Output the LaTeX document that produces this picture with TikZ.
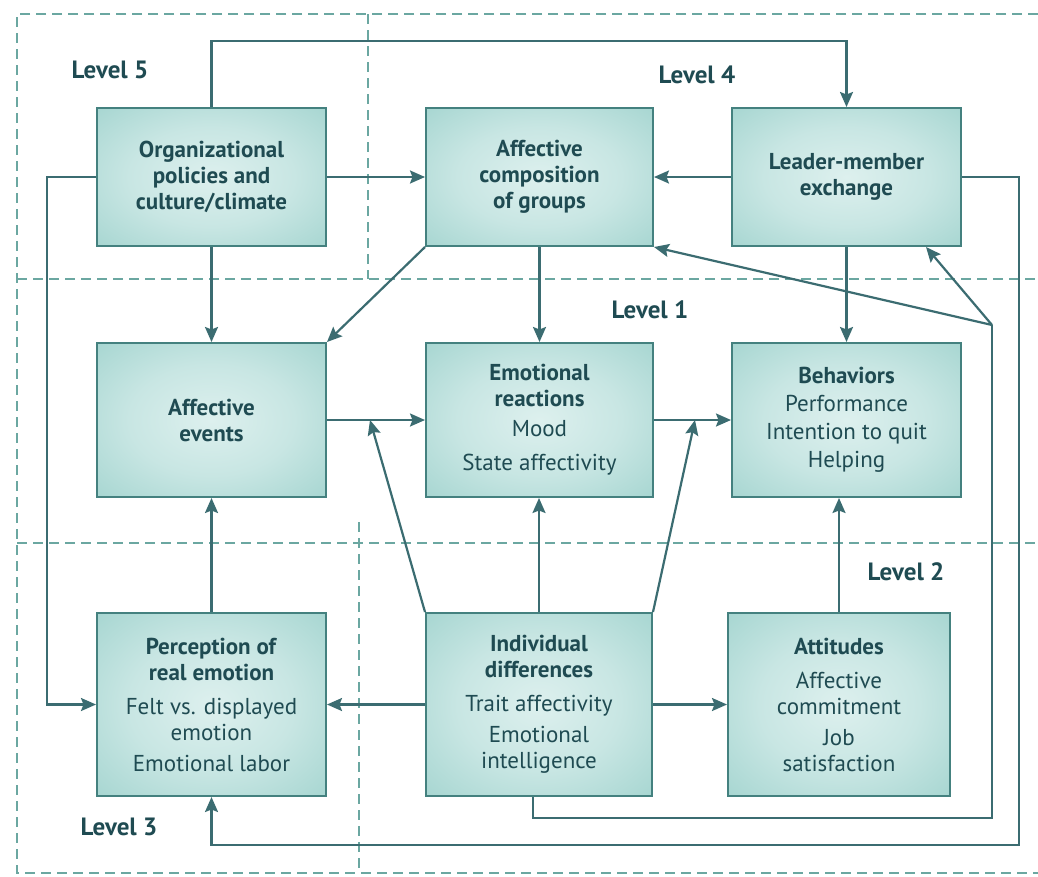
\documentclass[tikz,border=0pt]{standalone}
\usepackage{fontspec}
\setmainfont{PT Sans}
\usetikzlibrary{arrows.meta,calc}
\definecolor{ink}{HTML}{1F4B52}
\definecolor{wirec}{HTML}{3B6C71}
\definecolor{framec}{HTML}{44817F}
\definecolor{zonec}{HTML}{6BA7A1}
% soft teal glow for the boxes: light centre, deeper teal towards the rim
\pgfdeclareradialshading{boxglow}{\pgfpoint{0bp}{0bp}}{%
  color(0bp)=(rgb,255:red,221;green,240;blue,238);
  color(18bp)=(rgb,255:red,200;green,230;blue,227);
  color(50bp)=(rgb,255:red,140;green,201;blue,195);
  color(72bp)=(rgb,255:red,126;green,191;blue,185)}

\begin{document}
\begin{tikzpicture}[x=1pt,y=-1pt,
  box/.style={draw=framec, line width=2pt, shading=boxglow, align=center,
    text=ink, font=\fontsize{23}{26}\selectfont, inner sep=0pt},
  arr/.style={draw=wirec, line width=2.2pt,
    -{Stealth[length=15pt,width=13pt,inset=2.5pt]}},
  wire/.style={draw=wirec, line width=2.2pt},
  zoneline/.style={draw=zonec, line width=2pt, dash pattern=on 10pt off 6pt},
  lvl/.style={text=ink, font=\fontsize{25}{28}\selectfont\bfseries}
]
\useasboundingbox (0,0) rectangle (1038,876);
\fill[white] (0,0) rectangle (1038,876);

% level zones
\draw[zoneline] (1038,14) -- (17,14) -- (17,873) -- (1038,873);
\draw[zoneline] (17,279) -- (1038,279);
\draw[zoneline] (368,14) -- (368,279);
\draw[zoneline] (17,543) -- (1038,543);
\draw[zoneline] (359,522) -- (359,873);

\node[lvl] (l5) at (110,70) {Level 5};
\node[lvl] (l4) at (697,75) {Level 4};
\node[lvl] (l1) at (650,310) {Level 1};
\node[lvl] (l2) at (906,572) {Level 2};
\node[lvl] (l3) at (119,827) {Level 3};

% top row
\node[box, minimum width=229pt, minimum height=138pt] (org) at (211.5,177)
  {\textbf{Organizational}\\\textbf{policies and}\\\textbf{culture/climate}};
\node[box, minimum width=227pt, minimum height=138pt] (ac) at (539.5,177)
  {\textbf{Affective}\\\textbf{composition}\\\textbf{of groups}};
\node[box, minimum width=229pt, minimum height=138pt] (lmx) at (846.5,177)
  {\textbf{Leader-member}\\\textbf{exchange}};

% middle row
\node[box, minimum width=229pt, minimum height=154pt] (ae) at (211.5,420)
  {\textbf{Affective}\\\textbf{events}};
\node[box, minimum width=227pt, minimum height=154pt] (er) at (539.5,420)
  {\textbf{Emotional}\\\textbf{reactions}\\[4pt]Mood\\[8pt]State affectivity};
\node[box, minimum width=229pt, minimum height=154pt] (beh) at (846.5,420)
  {\textbf{Behaviors}\\[2pt]Performance\\[2pt]Intention to quit\\[2pt]Helping};

% bottom row
\node[box, minimum width=229pt, minimum height=183pt] (per) at (211.5,704.5)
  {\textbf{Perception of}\\\textbf{real emotion}\\[8pt]Felt vs. displayed\\emotion\\[5pt]Emotional labor};
\node[box, minimum width=226pt, minimum height=183pt] (id) at (539,704.5)
  {\textbf{Individual}\\\textbf{differences}\\[8pt]Trait affectivity\\[5pt]Emotional\\intelligence};
\node[box, minimum width=222pt, minimum height=183pt] (att) at (839,704.5)
  {\textbf{Attitudes}\\[8pt]Affective\\commitment\\[5pt]Job\\satisfaction};

% free ends and junctions
\coordinate (m1) at (370,420);
\coordinate (m2) at (695,420);
\coordinate (hub) at (992,325);

% connectors
\draw[arr] (org.north) -- ++(0,-66) -| (lmx.north);
\draw[arr] (org.east) -- (ac.west);
\draw[arr] (lmx.west) -- (ac.east);
\draw[arr] (org.west) -- ++(-49,0) |- (per.west);
\draw[arr] (org.south) -- (ae.north);
\draw[arr] (ac.south west) -- (ae.north east);
\draw[arr] (ac.south) -- (er.north);
\draw[arr] (lmx.south) -- (beh.north);
\draw[arr] (ae.east) -- (er.west);
\draw[arr] (er.east) -- (beh.west);
\draw[arr] (per.north) -- (ae.south);
\draw[arr] (id.north) -- (id.north |- er.south);
\draw[arr] (id.north west) -- (m1);
\draw[arr] (id.north east) -- (m2);
\draw[arr] (att.north) -- (att.north |- beh.south);
\draw[arr] (id.west) -- (per.east);
\draw[arr] (id.east) -- (att.west);
\draw[wire] ([xshift=-6pt]id.south) -- ++(0,21) -| (hub);
\draw[arr] (hub) -- ([xshift=-36pt]lmx.south east);
\draw[arr] (hub) -- (ac.south east);
\draw[arr] (lmx.east) -- ++(57,0) -- ++(0,668) -| (per.south);
\end{tikzpicture}
\end{document}
